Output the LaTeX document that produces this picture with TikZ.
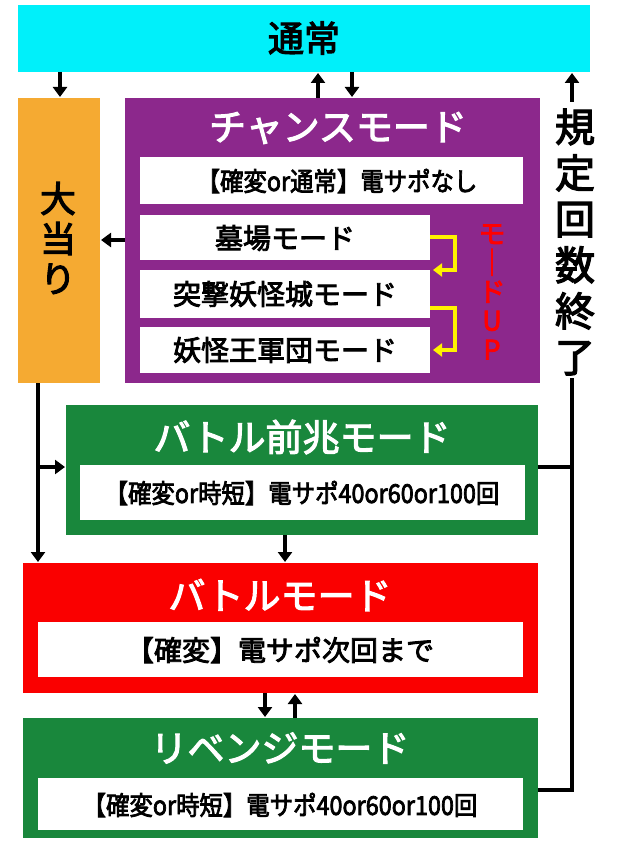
\documentclass[tikz,border=0pt]{standalone}
\usepackage{fontspec}
\newfontfamily\jp{Noto Sans CJK JP}[FakeBold=3]
\usetikzlibrary{arrows.meta}
\definecolor{cy}{RGB}{0,240,250}
\definecolor{pu}{RGB}{140,40,140}
\definecolor{gr}{RGB}{25,135,60}
\definecolor{rd}{RGB}{250,0,0}
\definecolor{og}{RGB}{245,170,50}
\tikzset{
 ttl/.style={text=white,font=\jp\fontsize{37}{39}\selectfont},
 itxt/.style={font=\jp\fontsize{28}{30}\selectfont},
 stxt/.style={font=\jp\fontsize{26}{28}\selectfont,xscale=0.9},
 arr/.style={line width=4pt,-{Triangle[length=10pt,width=14pt]}},
 ln/.style={line width=4pt},
 yarr/.style={draw=yellow,line width=4pt,-{Triangle[length=9pt,width=13pt]}},
}
\begin{document}
\begin{tikzpicture}[x=1pt,y=-1pt]
\useasboundingbox (0,0) rectangle (618,853);
\fill[white] (0,0) rectangle (618,853);
\fill[cy] (18,5) rectangle (590,72);
\node[font=\jp\fontsize{36}{38}\selectfont] (top) at (304,38) {通常};
\fill[og] (18,98) rectangle (100,383);
\node[font=\jp\fontsize{36}{40}\selectfont,align=center] (oa) at (58,238) {大\\当\\り};
\fill[pu] (125,98) rectangle (540,383);
\node[ttl] (ct) at (338,128) {チャンスモード};
\fill[white] (140,157) rectangle (523,204);
\node[stxt] (c1) at (337,181) {【確変or通常】電サポなし};
\fill[white] (140,215) rectangle (430,260);
\node[itxt] (c2) at (285,238) {墓場モード};
\fill[white] (140,270) rectangle (430,318);
\node[itxt] (c3) at (285,294) {突撃妖怪城モード};
\fill[white] (140,327) rectangle (430,373);
\node[itxt] (c4) at (285,350) {妖怪王軍団モード};
\node[text=red,font=\jp\fontsize{27}{29}\selectfont,align=center] (up) at (492,292) {モ\\｜\\ド\\U\\P};
\draw[yarr] (430,237) -- (455,237) -- (455,270) -- (433,270);
\draw[yarr] (430,308) -- (455,308) -- (455,350) -- (433,350);
\fill[gr] (66,405) rectangle (538,535);
\node[ttl] (bz) at (302,437) {バトル前兆モード};
\fill[white] (80,465) rectangle (525,520);
\node[stxt] (bz1) at (302,493) {【確変or時短】電サポ40or60or100回};
\fill[rd] (23,563) rectangle (538,693);
\node[ttl] (bt) at (280,595) {バトルモード};
\fill[white] (38,622) rectangle (523,677);
\node[itxt] (bt1) at (280,650) {【確変】電サポ次回まで};
\fill[gr] (23,718) rectangle (538,838);
\node[ttl] (rv) at (280,748) {リベンジモード};
\fill[white] (38,778) rectangle (523,830);
\node[stxt] (rv1) at (280,805) {【確変or時短】電サポ40or60or100回};
\node[font=\jp\fontsize{40}{46}\selectfont,align=center,fill=white,inner sep=1pt] (kt) at (575,242) {規\\定\\回\\数\\終\\了};
\draw[arr] (60,72) -- (60,97);
\draw[arr] (318,98) -- (318,73);
\draw[arr] (352,72) -- (352,97);
\draw[arr] (125,240) -- (101,240);
\draw[arr] (38,383) -- (38,562);
\draw[arr] (36,467) -- (65,467);
\draw[arr] (285,535) -- (285,562);
\draw[arr] (265,693) -- (265,717);
\draw[arr] (295,718) -- (295,694);
\draw[ln] (538,790) -- (572,790) -- (572,378);
\draw[ln] (538,467) -- (572,467);
\draw[arr] (572,102) -- (572,73);
\end{tikzpicture}
\end{document}
